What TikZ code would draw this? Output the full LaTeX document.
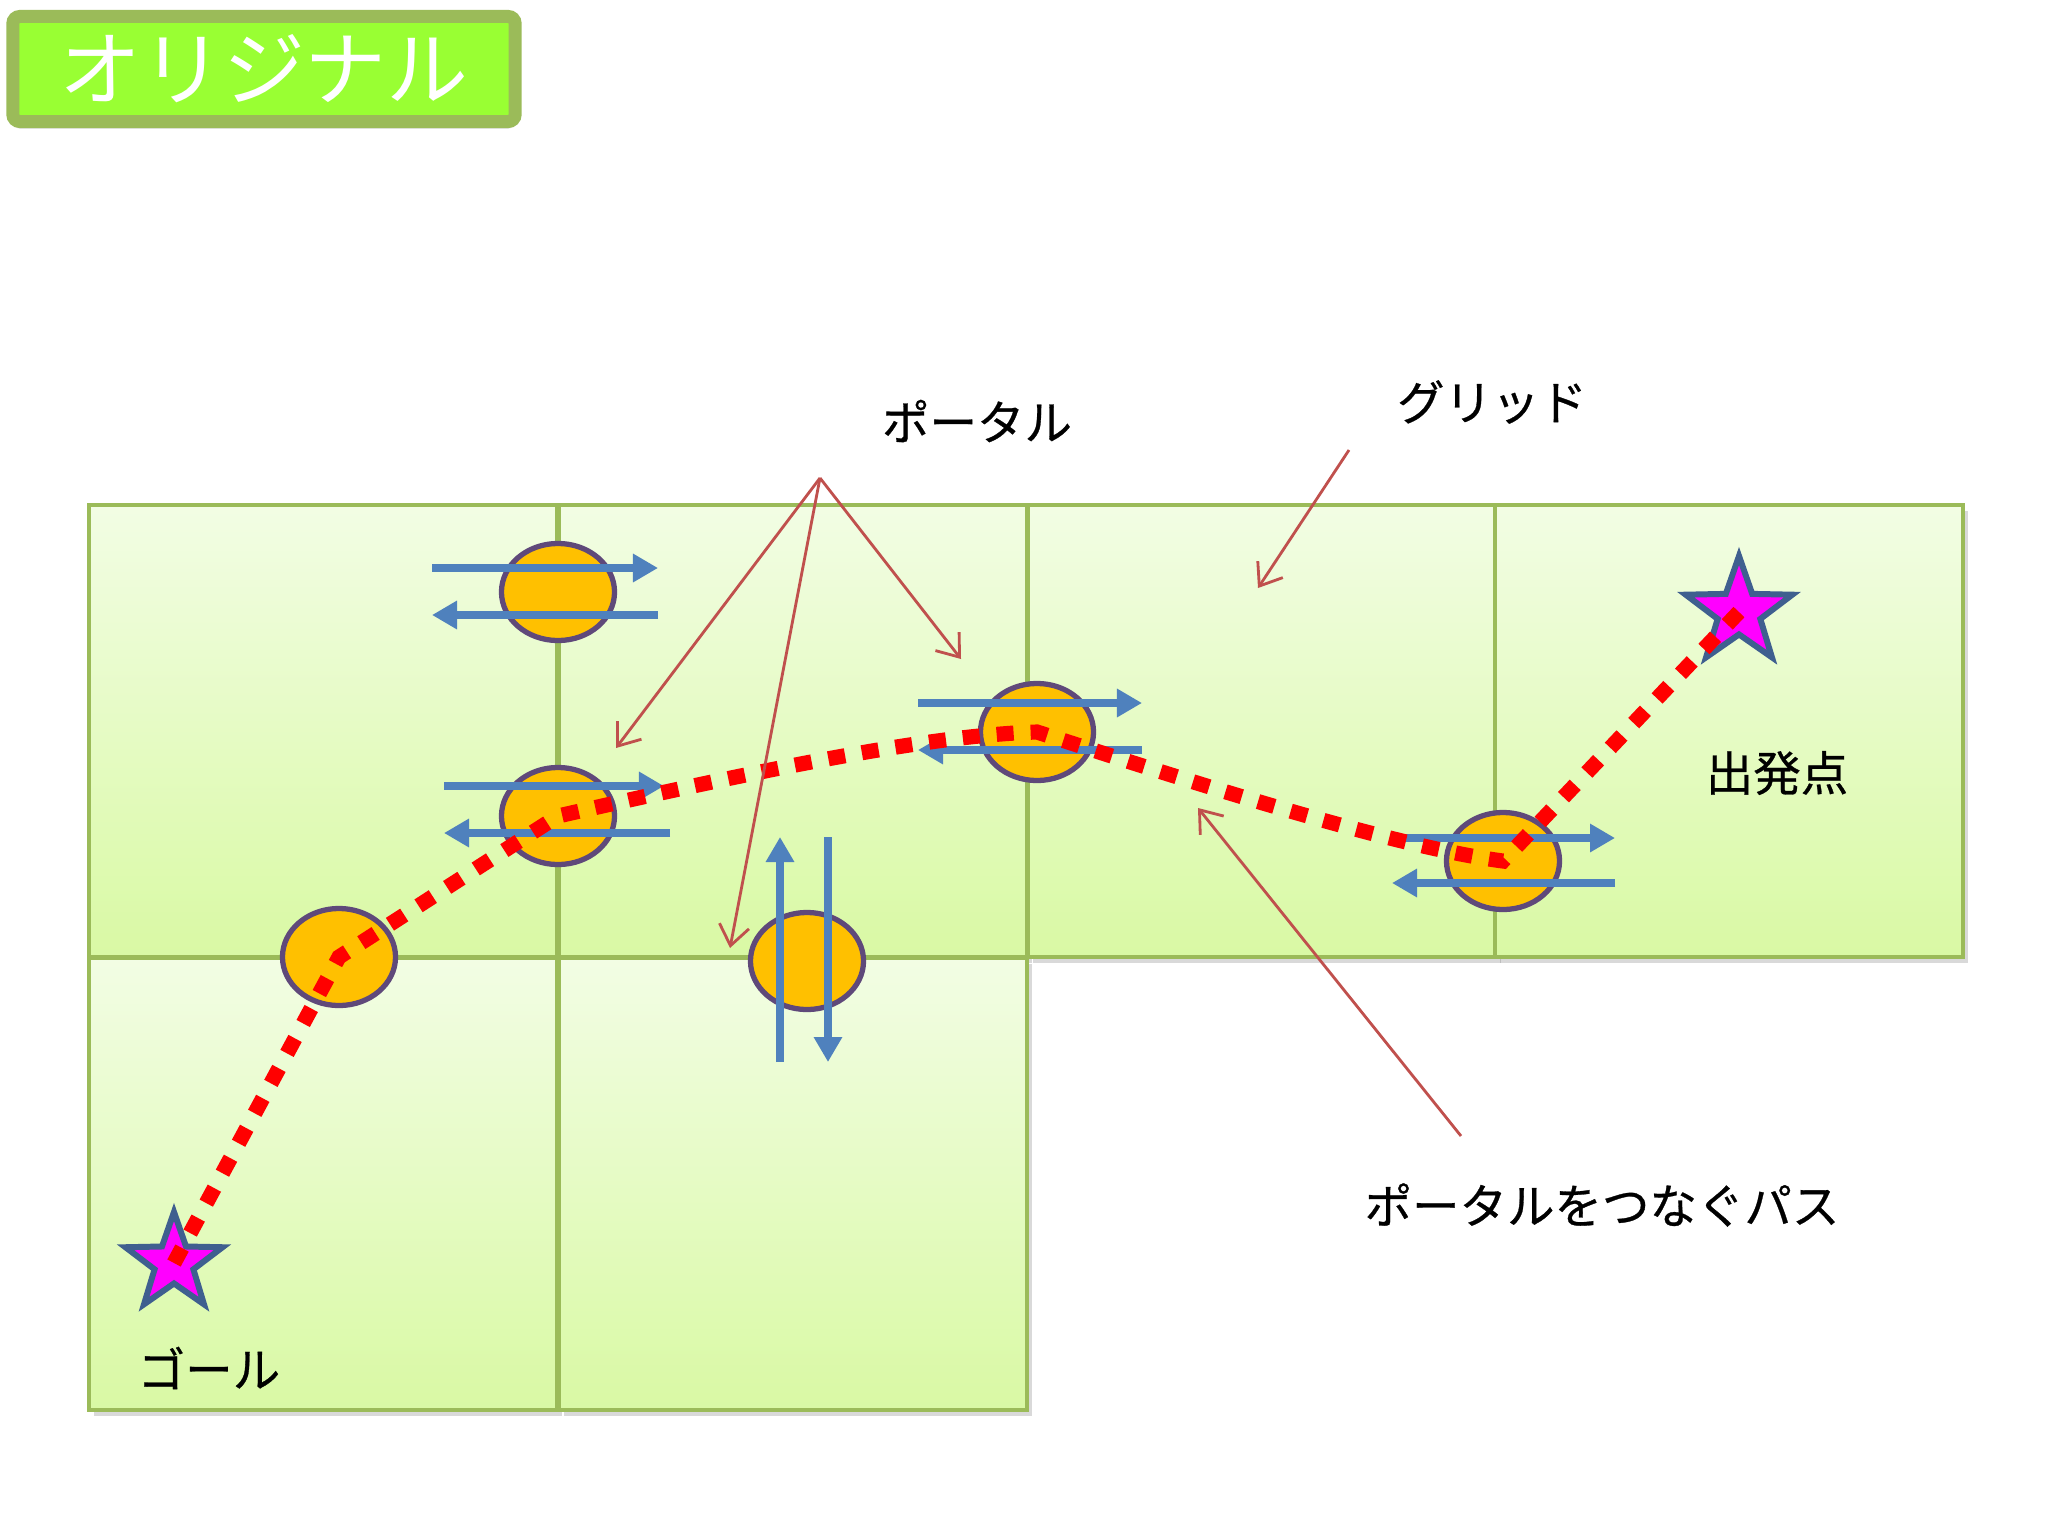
\documentclass[tikz,border=0pt]{standalone}
\usepackage{fontspec}
\setmainfont{Noto Sans CJK JP}
\newfontfamily\jpbold[FakeBold=0.6]{Noto Sans CJK JP}
\usetikzlibrary{arrows.meta,shapes.geometric,shadows}
\definecolor{gridline}{HTML}{9BBB59}
\definecolor{celltop}{HTML}{F2FDE4}
\definecolor{cellbottom}{HTML}{D9F9A4}
\definecolor{titlegreen}{HTML}{99FF33}
\definecolor{portalfill}{HTML}{FFC000}
\definecolor{portalline}{HTML}{5F497A}
\definecolor{flowblue}{HTML}{4F81BD}
\definecolor{notered}{HTML}{C0504D}
\definecolor{starline}{HTML}{3F5F8F}
\definecolor{starfill}{HTML}{FF00FF}
\definecolor{routered}{HTML}{FF0000}
\tikzset{
    cell/.style = {draw=gridline, rectangle, line width=1pt, inner sep=0pt,
        minimum width=4.68cm,
        minimum height=4.52cm,
        top color=celltop, bottom color=cellbottom,
        drop shadow={shadow xshift=0.05cm, shadow yshift=-0.06cm, opacity=0.3}},
    titlebox/.style = {draw=gridline, fill=titlegreen, line width=3.7pt,
        rounded corners=2pt, text=white,
        minimum width=5.02cm, minimum height=1.05cm,
        font=\fontsize{23.3}{28}\selectfont,
        drop shadow={shadow xshift=0cm, shadow yshift=-0.07cm, opacity=0.3}},
    portal/.style = {draw=portalline, fill=portalfill, ellipse, line width=1.5pt,
        minimum width=1.13cm, minimum height=0.97cm, inner sep=0pt},
    flow/.style = {draw=flowblue, line width=2.3pt, -{Triangle[width=0.27cm,length=0.25cm]}},
    route/.style = {draw=routered, line width=4.3pt, dash pattern=on 0.17cm off 0.17cm},
    note/.style = {draw=notered, line width=0.8pt, -{Straight Barb[length=0.2cm,width=0.3cm]}},
    flag/.style = {star, star points=5, star point ratio=2.5, fill=starfill,
        draw=starline, line width=1.7pt, inner sep=0pt},
    lbl/.style = {inner sep=0pt, font=\jpbold\fontsize{13.5}{16}\selectfont}
}

\begin{document}
\begin{tikzpicture}[x=0.01cm, y=-0.01cm]
    \useasboundingbox (0,0) rectangle (2048,1536);
    % title
    \node[titlebox] (title) at (264,69) {オリジナル};
    % grid cells
    \node[cell] (c11) at (323,731) {};
    \node[cell] (c12) at (793,731) {};
    \node[cell] (c13) at (1262,731) {};
    \node[cell] (c14) at (1729,731) {};
    \node[cell] (c21) at (323,1184) {};
    \node[cell] (c22) at (793,1184) {};
    % portals
    \node[portal] (p1) at (558,592) {};
    \node[portal] (p2) at (558,816) {};
    \node[portal] (p3) at (1037,732) {};
    \node[portal] (p4) at (807,961) {};
    \node[portal] (p5) at (1503,861) {};
    \node[portal] (p6) at (339,957) {};
    \draw[flow] ([shift={(-126,-24)}]p1.center) -- ++(226,0);
    \draw[flow] ([shift={(100,23)}]p1.center) -- ++(-226,0);
    \draw[flow] ([shift={(-114,-30)}]p2.center) -- ++(220,0);
    \draw[flow] ([shift={(112,17)}]p2.center) -- ++(-226,0);
    \draw[flow] ([shift={(-119,-29)}]p3.center) -- ++(224,0);
    \draw[flow] ([shift={(105,18)}]p3.center) -- ++(-224,0);
    \draw[flow] ([shift={(-27,101)}]p4.center) -- ++(0,-225);
    \draw[flow] ([shift={(21,-124)}]p4.center) -- ++(0,225);
    \draw[flow] ([shift={(-108,-23)}]p5.center) -- ++(220,0);
    \draw[flow] ([shift={(112,22)}]p5.center) -- ++(-223,0);
    % start and goal
    \node[flag, minimum size=1.12cm] (start) at (1739,612) {};
    \node[flag, minimum size=1.02cm] (goal) at (174,1263) {};
    % path through the portals
    \draw[route] (goal.center) -- (p6.center) -- (p2.center)
        .. controls (760,770) and (930,735) .. (p3.center)
        .. controls (1140,765) and (1380,845) .. (p5.center) -- (start.center);
    % labels
    \node[lbl] (portallbl) at (977,421) {ポータル};
    \node[lbl] (gridlbl) at (1492,402) {グリッド};
    \node[lbl] (startlbl) at (1777,773) {出発点};
    \node[lbl] (goallbl) at (209,1368) {ゴール};
    \node[lbl] (pathlbl) at (1602,1205) {ポータルをつなぐパス};
    \coordinate (hub) at (820,478);
    \coordinate (tipA) at (616,748);
    \coordinate (tipB) at (730,948);
    \coordinate (tipC) at (961,659);
    \coordinate (gridfrom) at (1349,450);
    \coordinate (gridtip) at (1258,588);
    \coordinate (pathfrom) at (1461,1136);
    \coordinate (pathtip) at (1198,808);
    \draw[note] (hub) -- (tipA);
    \draw[note] (hub) -- (tipB);
    \draw[note] (hub) -- (tipC);
    \draw[note] (gridfrom) -- (gridtip);
    \draw[note] (pathfrom) -- (pathtip);
\end{tikzpicture}
\end{document}
